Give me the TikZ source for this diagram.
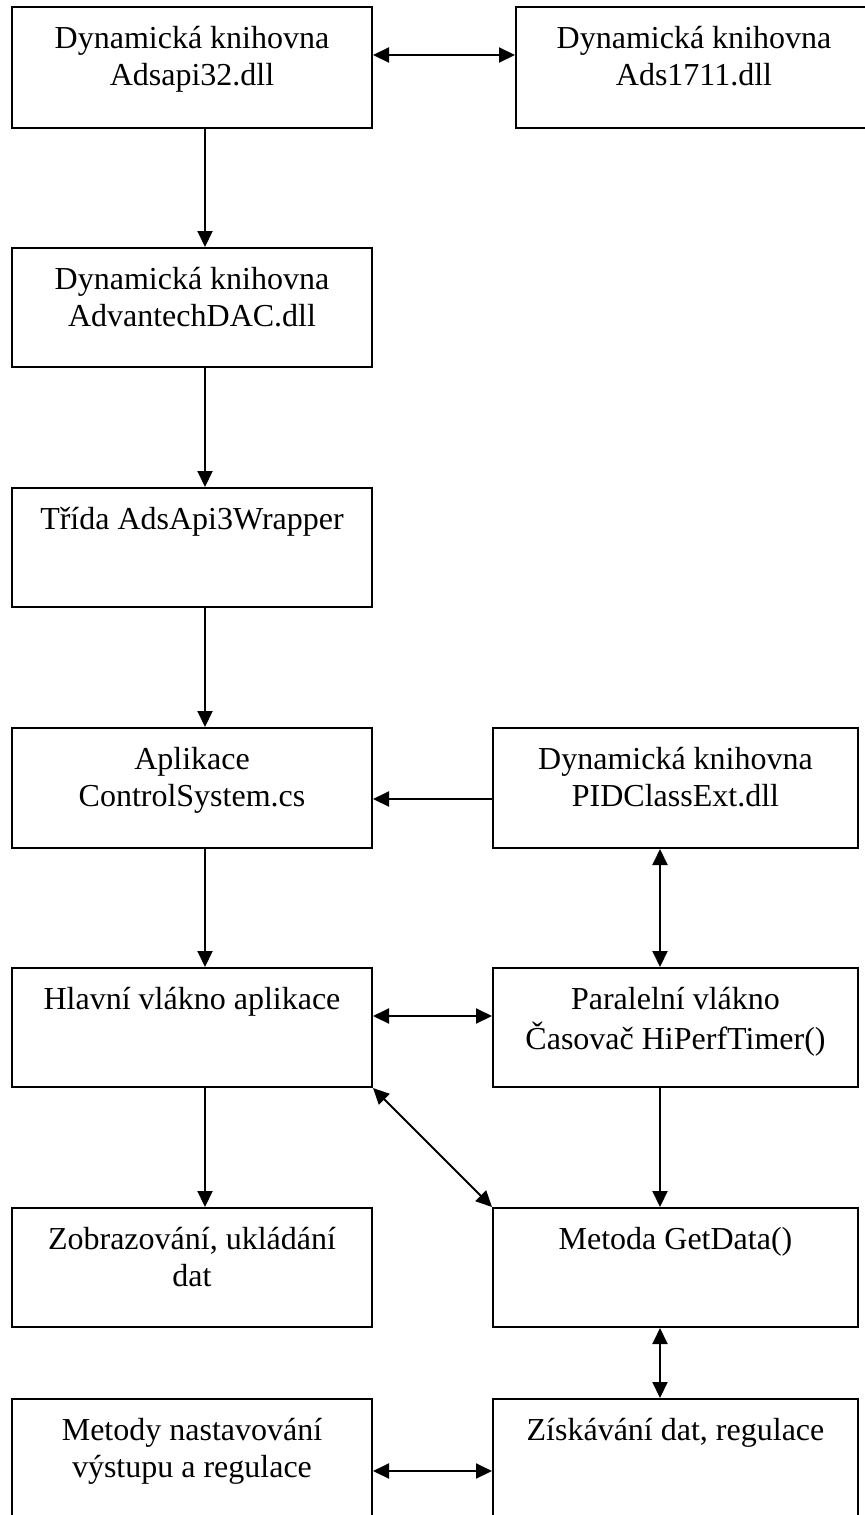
\documentclass[tikz,border=0pt]{standalone}
\usepackage{fontspec}
\setmainfont{Liberation Serif}
\usetikzlibrary{arrows.meta}
\begin{document}
\begin{tikzpicture}[x=0.5pt,y=-0.5pt,
  box/.style={draw, line width=1pt, rectangle, inner sep=0pt},
  lbox/.style={box, minimum width=180pt, minimum height=60pt},
  rbox/.style={box, minimum width=182.5pt, minimum height=60pt},
  lbl/.style={anchor=north, align=center, inner sep=0pt, yshift=-8pt,
              font=\fontsize{16}{18.5}\selectfont},
  tip/.tip={Triangle[length=8pt,width=7.5pt]},
  arr/.style={line width=1pt, -tip},
  darr/.style={line width=1pt, tip-tip}]
\useasboundingbox (0,0) rectangle (865,1515);

% boxes
\node[lbox, minimum height=60.5pt] (b1) at (192,67.5) {};
\node[box, minimum width=178pt, minimum height=60.5pt] (b1r) at (694,67.5) {};
\node[lbox, minimum height=59.5pt] (b2) at (192,307.5) {};
\node[lbox, minimum height=59.5pt] (b3) at (192,547.5) {};
\node[lbox] (b4) at (192,788) {};
\node[rbox] (b4r) at (675.5,788) {};
\node[lbox, minimum height=59.5pt] (b5) at (192,1027.5) {};
\node[rbox, minimum height=59.5pt] (b5r) at (675.5,1027.5) {};
\node[lbox, minimum height=59.5pt] (b6) at (192,1267.5) {};
\node[rbox, minimum height=59.5pt] (b6r) at (675.5,1267.5) {};
\node[lbox, minimum height=70pt] (b7) at (192,1469) {};
\node[rbox, minimum height=70pt] (b7r) at (675.5,1469) {};

% labels
\node[lbl] (t1) at (b1.north) {\strut Dynamická knihovna\\\strut Adsapi32.dll};
\node[lbl] (t1r) at (b1r.north) {\strut Dynamická knihovna\\\strut Ads1711.dll};
\node[lbl] (t2) at (b2.north) {\strut Dynamická knihovna\\\strut AdvantechDAC.dll};
\node[lbl] (t3) at (b3.north) {\strut Třída AdsApi3Wrapper};
\node[lbl] (t4) at (b4.north) {\strut Aplikace\\\strut ControlSystem.cs};
\node[lbl] (t4r) at (b4r.north) {\strut Dynamická knihovna\\\strut PIDClassExt.dll};
\node[lbl] (t5) at (b5.north) {\strut Hlavní vlákno aplikace};
\node[lbl] (t5r) at (b5r.north) {\strut Paralelní vlákno\\\strut Časovač HiPerfTimer()};
\node[lbl] (t6) at (b6.north) {\strut Zobrazování, ukládání\\\strut dat};
\node[lbl] (t6r) at (b6r.north) {\strut Metoda GetData()};
\node[lbl] (t7) at (b7.north) {\strut Metody nastavování\\\strut výstupu a regulace};
\node[lbl] (t7r) at (b7r.north) {\strut Získávání dat, regulace};

% connector guides
\coordinate (xl) at (205,0);
\coordinate (xr) at (660,0);
\coordinate (y1) at (0,55);
\coordinate (y4) at (0,799);
\coordinate (y5) at (0,1016);
\coordinate (y7) at (0,1471);

% connectors
\draw[darr] (b1.east |- y1) -- (b1r.west |- y1);
\draw[arr] (b1.south -| xl) -- (b2.north -| xl);
\draw[arr] (b2.south -| xl) -- (b3.north -| xl);
\draw[arr] (b3.south -| xl) -- (b4.north -| xl);
\draw[arr] (b4r.west |- y4) -- (b4.east |- y4);
\draw[arr] (b4.south -| xl) -- (b5.north -| xl);
\draw[darr] (b4r.south -| xr) -- (b5r.north -| xr);
\draw[darr] (b5.east |- y5) -- (b5r.west |- y5);
\draw[arr] (b5.south -| xl) -- (b6.north -| xl);
\draw[arr] (b5r.south -| xr) -- (b6r.north -| xr);
\draw[darr] (b5.south east) -- (b6r.north west);
\draw[darr] (b6r.south -| xr) -- (b7r.north -| xr);
\draw[darr] (b7.east |- y7) -- (b7r.west |- y7);
\end{tikzpicture}
\end{document}
